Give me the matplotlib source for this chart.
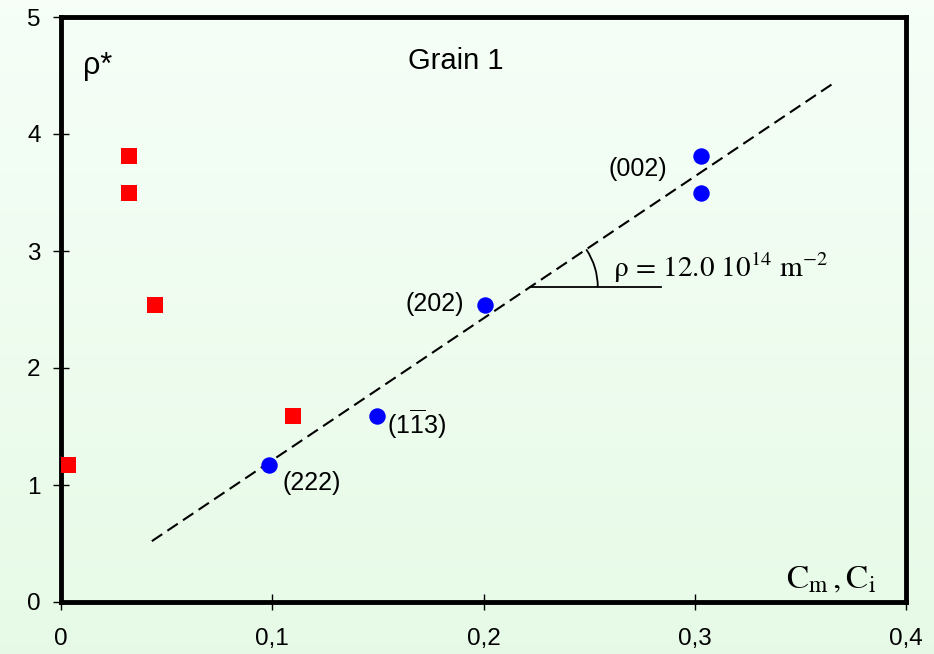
import numpy as np
import matplotlib
matplotlib.use("Agg")
import matplotlib.pyplot as plt
from matplotlib.patches import Arc
from matplotlib.transforms import IdentityTransform

plt.rcParams['font.family'] = ['Liberation Sans', 'DejaVu Sans']
plt.rcParams['mathtext.fontset'] = 'custom'
plt.rcParams['mathtext.rm'] = 'Liberation Sans'
plt.rcParams['mathtext.it'] = 'Liberation Sans:italic'

# Data
cm_x = [0.0033, 0.032, 0.032, 0.0445, 0.110]
cm_y = [1.17, 3.81, 3.50, 2.54, 1.59]
ci_x = [0.0985, 0.1496, 0.2008, 0.303, 0.303]
ci_y = [1.17, 1.59, 2.54, 3.81, 3.50]
fit_x = [0.043, 0.367]
fit_y = [0.52, 4.45]
ci_labels = ["(222)", r"(1$\overline{\mathrm{1}}$3)", "(202)", "(002)"]
xticks = [0, 0.1, 0.2, 0.3, 0.4]
xtick_labels = ["0", "0,1", "0,2", "0,3", "0,4"]
yticks = [0, 1, 2, 3, 4, 5]

fig = plt.figure(figsize=(9.34, 6.54), dpi=100)
bg = fig.add_axes([0, 0, 1, 1], zorder=-10)
grad = np.linspace(0, 1, 256).reshape(-1, 1)
top = np.array([0.965, 0.998, 0.970])
bot = np.array([0.905, 0.980, 0.905])
img = top[None, None, :] * (1 - grad[:, :, None]) + bot[None, None, :] * grad[:, :, None]
bg.imshow(img, aspect='auto', extent=[0, 1, 0, 1])
bg.axis('off')

ax = fig.add_axes([61/934, 52/654, 845/934, 585/654])
ax.set_facecolor('none')
ax.set_xlim(0, 0.4)
ax.set_ylim(0, 5)
for s in ax.spines.values():
    s.set_linewidth(3.5)
    s.set_color('black')
ax.set_xticks(xticks)
ax.set_xticklabels(xtick_labels)
ax.set_yticks(yticks)
ax.tick_params(direction='inout', length=11.5, width=1, labelsize=17.5, colors='black')
ax.tick_params(axis='x', pad=13)
ax.tick_params(axis='y', pad=9)

ax.plot(fit_x, fit_y, color='black', lw=1.5, dashes=[6, 3], zorder=2)
ax.scatter(cm_x, cm_y, marker='s', s=125, color='#FF0000', zorder=3, linewidths=0)
ax.scatter(ci_x, ci_y, marker='o', s=140, color='#0000FF', zorder=3, linewidths=0)

# labels of points
lab_fs = 18
ax.text(0.1047, 1.02, ci_labels[0], fontsize=lab_fs, ha='left', va='center')
ax.text(0.1543, 1.52, ci_labels[1], fontsize=lab_fs, ha='left', va='center')
ax.text(0.1910, 2.55, ci_labels[2], fontsize=lab_fs, ha='right', va='center')
ax.text(0.2868, 3.70, ci_labels[3], fontsize=lab_fs, ha='right', va='center')

ax.text(0.0105, 4.58, "ρ*", fontsize=22, ha='left', va='center')
ax.text(0.1643, 4.62, "Grain 1", fontsize=21, ha='left', va='center')
ax.text(0.3858, 0.19, r"$\mathrm{C_m\,,C_i}$", fontsize=24, ha='right', va='center',
        math_fontfamily='stix')

# slope annotation
y0 = 2.69
slope = (fit_y[1] - fit_y[0]) / (fit_x[1] - fit_x[0])
x0 = fit_x[0] + (y0 - fit_y[0]) / slope
ax.plot([x0, 0.284], [y0, y0], color='black', lw=1.3)
p0 = ax.transData.transform((x0, y0))
p1 = ax.transData.transform((fit_x[1], fit_y[1]))
ang = np.degrees(np.arctan2(p1[1] - p0[1], p1[0] - p0[0]))
r = 68
arc = Arc(p0, 2*r, 2*r, theta1=0, theta2=ang, transform=IdentityTransform(),
          color='black', lw=1.3)
ax.add_patch(arc)
ax.text(0.2615, 2.86, r"$\mathrm{ρ\,=\,12.0\ 10^{14}\ m^{-2}}$", fontsize=21,
        ha='left', va='center', math_fontfamily='stix')

fig.savefig('out.png', dpi=100)
